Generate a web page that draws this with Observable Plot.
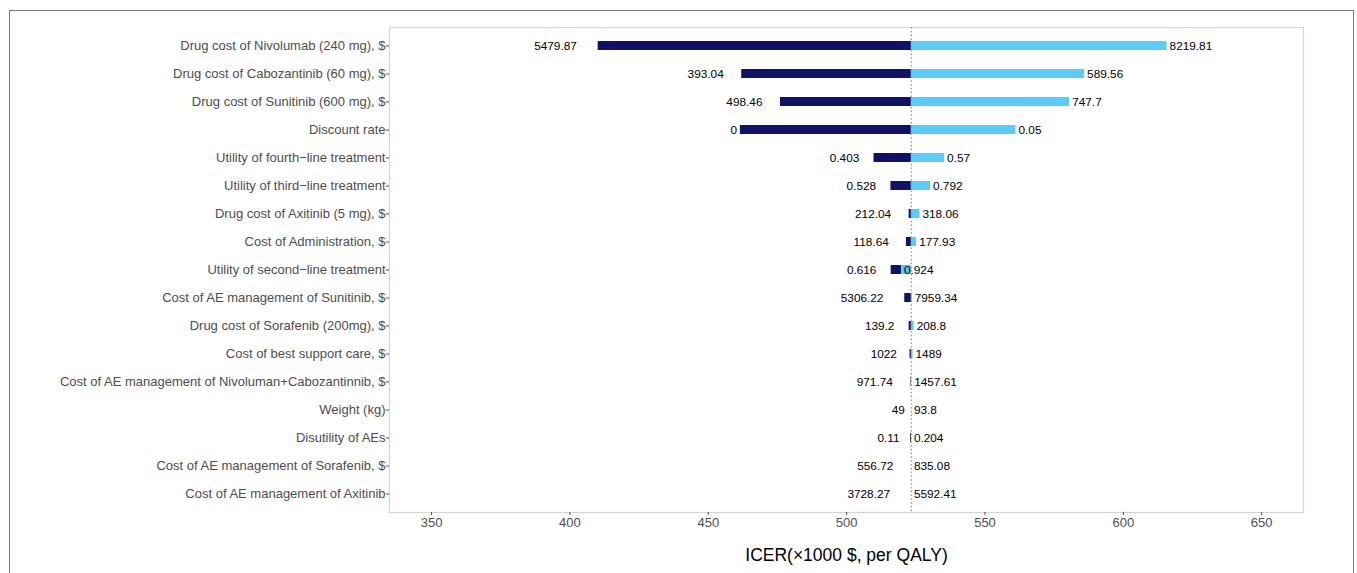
<!DOCTYPE html>
<html>
<head>
<meta charset="utf-8">
<script src="https://cdn.jsdelivr.net/npm/d3@7"></script>
<script src="https://cdn.jsdelivr.net/npm/@observablehq/plot@0.6"></script>
<style>
  body { margin: 0; background: #fff; font-family: "Liberation Sans", Arial, sans-serif; }
  #wrap { position: relative; width: 1357px; height: 573px; overflow: hidden; background: #fff; }
  #border { position: absolute; left: 9px; top: 10px; width: 1345px; height: 620px; border: 1.5px solid #7a7a7a; box-sizing: border-box; }
  #chart { position: absolute; left: 0; top: 0; }
</style>
</head>
<body>
<div id="wrap"><div id="border"></div><div id="chart"></div></div>
<script>
// ---- data ----
const parameters = [
  "Drug cost of Nivolumab (240 mg), $",
  "Drug cost of Cabozantinib (60 mg), $",
  "Drug cost of Sunitinib (600 mg), $",
  "Discount rate",
  "Utility of fourth\u2212line treatment",
  "Utility of third\u2212line treatment",
  "Drug cost of Axitinib (5 mg), $",
  "Cost of Administration, $",
  "Utility of second\u2212line treatment",
  "Cost of AE management of Sunitinib, $",
  "Drug cost of Sorafenib (200mg), $",
  "Cost of best support care, $",
  "Cost of AE management of Nivoluman+Cabozantinnib, $",
  "Weight (kg)",
  "Disutility of AEs",
  "Cost of AE management of Sorafenib, $",
  "Cost of AE management of Axitinib"
];
const lowICER  = [410.2, 462.1, 476.1, 461.6, 509.9, 516.0, 522.6, 521.6, 516.1, 521.0, 522.6, 522.9, 523.2, 523.4, 523.1, 523.4, 523.4];
const highICER = [615.8, 586.0, 580.6, 561.2, 535.4, 530.3, 526.5, 525.3, 519.8, 523.7, 524.4, 524.0, 523.5, 523.4, 523.4, 523.4, 523.4];
const lowLabels  = ["5479.87", "393.04", "498.46", "0", "0.403", "0.528", "212.04", "118.64", "0.616", "5306.22", "139.2", "1022", "971.74", "49", "0.11", "556.72", "3728.27"];
const highLabels = ["8219.81", "589.56", "747.7", "0.05", "0.57", "0.792", "318.06", "177.93", "0.924", "7959.34", "208.8", "1489", "1457.61", "93.8", "0.204", "835.08", "5592.41"];
const baseICER = 523.4;
const xDomain = [334.8, 665.1];
const xTicks = [350, 400, 450, 500, 550, 600, 650];
const axisTitle = "ICER(\u00d71000 $, per QALY)";

const rows = parameters.map((p, i) => ({
  p, low: lowICER[i], high: highICER[i], lowLabel: lowLabels[i], highLabel: highLabels[i]
}));

const darkColor = "#111167";
const lightColor = "#57CDF8";

const chart = Plot.plot({
  width: 1357,
  height: 573,
  marginLeft: 389,
  marginRight: 54,
  marginTop: 27,
  marginBottom: 61,
  style: { fontFamily: '"Liberation Sans", Arial, sans-serif', background: "transparent", color: "#4d4d4d" },
  x: { domain: xDomain },
  y: { domain: parameters, paddingInner: 0.67, paddingOuter: 0.36 },
  marks: [
    Plot.frame({ stroke: "#d4d4d4", strokeWidth: 1.2 }),
    Plot.axisY({ tickSize: 3, tickPadding: 1, fontSize: 13, color: "#4d4d4d", label: null }),
    Plot.axisX({ ticks: xTicks, tickSize: 3, tickPadding: 2, fontSize: 13, color: "#4d4d4d", label: null }),
    Plot.barX(rows, { y: "p", x1: () => baseICER, x2: "low", fill: darkColor }),
    Plot.barX(rows, { y: "p", x1: () => baseICER, x2: "high", fill: lightColor }),
    Plot.ruleX([baseICER], { stroke: "#9a9a9a", strokeDasharray: "1.6,2.2", strokeWidth: 1.3 }),
    Plot.text(rows, { x: "low", y: "p", text: "lowLabel", textAnchor: "end", fontSize: 11.8, fill: "black", className: "lowlab" }),
    Plot.text(rows, { x: "high", y: "p", text: "highLabel", textAnchor: "start", dx: 2.5, fontSize: 11.8, fill: "black" }),
    Plot.text([axisTitle], { frameAnchor: "bottom", lineAnchor: "middle", dy: 43, fontSize: 17.5, fill: "black" })
  ]
});

document.getElementById("chart").appendChild(chart);

// low-side labels sit half their width away from the bar end (as in the reference)
let lows = chart.querySelectorAll(".lowlab text");
lows.forEach(t => {
  const w = t.getComputedTextLength();
  t.setAttribute("dx", (-0.5 * w).toFixed(2));
});
</script>
</body>
</html>
